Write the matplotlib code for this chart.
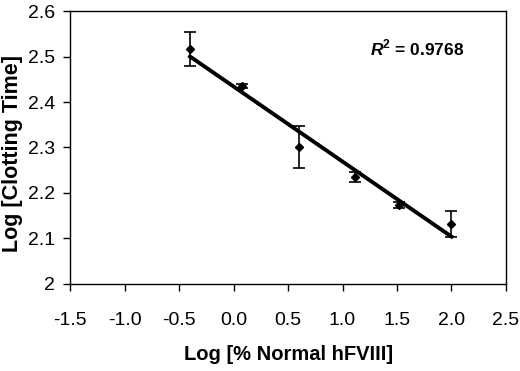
import numpy as np
import matplotlib
matplotlib.use("Agg")
import matplotlib.pyplot as plt

plt.rcParams['font.family'] = ['Liberation Sans', 'DejaVu Sans']
plt.rcParams['mathtext.fontset'] = 'custom'
plt.rcParams['mathtext.rm'] = 'Liberation Sans'
plt.rcParams['mathtext.bf'] = 'Liberation Sans:bold'
plt.rcParams['mathtext.bfit'] = 'Liberation Sans:bold:italic'

# log % normal hFVIII vs log clotting time
log_fviii = [-0.40, 0.08, 0.60, 1.115, 1.52, 2.00]
log_ct = [2.516, 2.435, 2.301, 2.235, 2.174, 2.132]
ct_err = [0.037, 0.005, 0.047, 0.012, 0.007, 0.029]

x_ticks = [-1.5, -1.0, -0.5, 0.0, 0.5, 1.0, 1.5, 2.0, 2.5]
x_tick_labels = ["-1.5", "-1.0", "-0.5", "0.0", "0.5", "1.0", "1.5", "2.0", "2.5"]
y_ticks = [2.0, 2.1, 2.2, 2.3, 2.4, 2.5, 2.6]
y_tick_labels = ["2", "2.1", "2.2", "2.3", "2.4", "2.5", "2.6"]

fig = plt.figure(figsize=(5.2, 3.71), dpi=100)
ax = fig.add_axes([0.135, 0.235, 0.838, 0.735])

slope, intercept = np.polyfit(log_fviii, log_ct, 1)
xf = np.array([min(log_fviii), max(log_fviii)])
ax.plot(xf, slope * xf + intercept, color='black', lw=2.8, zorder=2)

ax.errorbar(log_fviii, log_ct, yerr=ct_err, fmt='D', color='black', ms=4.5,
            ecolor='black', elinewidth=1.2, capsize=4, capthick=1.2, zorder=3)

ax.text(0.905, 0.865, r"$\mathbfit{R}^{\mathbf{2}}$" + " = 0.9768", transform=ax.transAxes,
        ha='right', va='center', fontsize=12.5, fontweight='bold')

ax.set_xlim(-1.5, 2.5)
ax.set_ylim(2.0, 2.6)
ax.set_xticks(x_ticks)
ax.set_xticklabels(x_tick_labels)
ax.set_yticks(y_ticks)
ax.set_yticklabels(y_tick_labels)
ax.tick_params(labelsize=14, length=5, width=1, direction='out')
ax.tick_params(axis='x', pad=15)
ax.tick_params(axis='y', pad=6)
ax.set_xlabel("Log [% Normal hFVIII]", fontsize=14.5, fontweight='bold', va='top')
ax.set_ylabel("Log [Clotting Time]", fontsize=15.5, fontweight='bold')
ax.xaxis.set_label_coords(0.5, -0.225)
ax.yaxis.set_label_coords(-0.108, 0.478)
for s in ax.spines.values():
    s.set_linewidth(1)

fig.savefig("out.png", dpi=100)
